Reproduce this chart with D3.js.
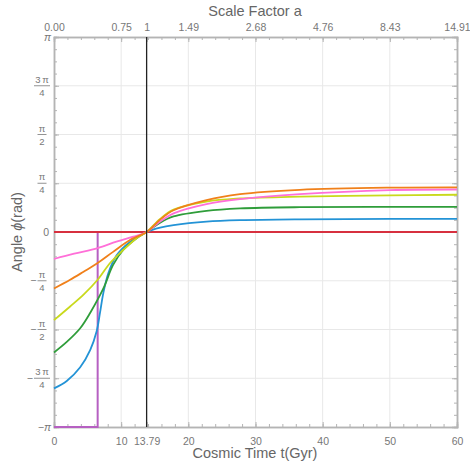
<!DOCTYPE html>
<html>
<head>
<meta charset="utf-8">
<script src="https://cdn.jsdelivr.net/npm/d3@7"></script>
<style>
  body { margin: 0; background: #fff; }
  text { font-family: "Liberation Sans", Arial, sans-serif; }
</style>
</head>
<body>
<svg width="470" height="465"></svg>
<script>
// ticks on the time axis, and matching scale factor labels on top
const timeTicks = [0, 10, 13.79, 20, 30, 40, 50, 60];
const timeLabels = ["0", "10", "13.79", "20", "30", "40", "50", "60"];
const scaleLabels = ["0.00", "0.75", "1", "1.49", "2.68", "4.76", "8.43", "14.91"];
const gridTimes = [10, 20, 30, 40, 50];
const nowTime = 13.79;

// y ticks in quarters of pi
const angleQuarters = [-4, -3, -2, -1, 0, 1, 2, 3, 4];

// curves [t, phi]
const blueSeries = [[0,-2.52],[1.9,-2.4],[3.9,-2.18],[5.4,-1.9],[6.35,-1.6],[6.85,-1.3],[7.35,-0.98],[8.1,-0.66],[9.3,-0.38],[11.3,-0.16],[13.79,0],[15.8,0.07],[17.8,0.11],[22.7,0.166],[27.7,0.19],[36.6,0.204],[50,0.21],[60,0.21]];
const greenSeries = [[0,-1.94],[1.9,-1.77],[3.9,-1.55],[5.4,-1.3],[7.35,-0.91],[8.8,-0.53],[10.3,-0.29],[12.3,-0.1],[13.79,0],[15.8,0.15],[17.8,0.25],[22.7,0.34],[27.7,0.38],[36.6,0.40],[60,0.405]];
const yellowSeries = [[0,-1.42],[2.4,-1.2],[4.4,-1.01],[6.5,-0.77],[8.35,-0.5],[10.3,-0.29],[12.3,-0.1],[13.79,0],[15.8,0.21],[17.8,0.36],[22.7,0.49],[27.7,0.54],[36.6,0.57],[50,0.59],[60,0.60]];
const orangeSeries = [[0,-0.91],[2.4,-0.77],[4.4,-0.64],[6.5,-0.5],[8.8,-0.32],[11.3,-0.13],[13.79,0],[15.8,0.2],[17.8,0.35],[22.7,0.515],[27.7,0.61],[36.6,0.68],[50,0.715],[60,0.72]];
const pinkSeries = [[0,-0.435],[3,-0.35],[6.5,-0.26],[9.3,-0.156],[11.8,-0.076],[13.79,0],[15.8,0.17],[17.8,0.3],[22.7,0.45],[27.7,0.53],[36.6,0.61],[50,0.675],[60,0.685]];
const purpleSeries = [[0,-Math.PI],[6.5,-Math.PI],[6.5,0],[60,0]];
const redSeries = [[0,0],[60,0]];

const svg = d3.select('svg');
const margin = {top: 37, right: 13, bottom: 38, left: 54};
const innerWidth = 470 - margin.left - margin.right;
const innerHeight = 465 - margin.top - margin.bottom;
const g = svg.append('g').attr('transform', `translate(${margin.left},${margin.top})`);

const x = d3.scaleLinear().domain([0, 60]).range([0, innerWidth]);
const y = d3.scaleLinear().domain([-Math.PI, Math.PI]).range([innerHeight, 0]);

const gridColor = '#e8e8e8';
const frameColor = '#b4b4b4';
const textColor = '#777';

// grid
g.selectAll('.vgrid').data(gridTimes).join('line')
  .attr('x1', d => x(d)).attr('x2', d => x(d))
  .attr('y1', 0).attr('y2', innerHeight)
  .attr('stroke', gridColor);
g.selectAll('.hgrid').data(angleQuarters.filter(q => Math.abs(q) < 4)).join('line')
  .attr('x1', 0).attr('x2', innerWidth)
  .attr('y1', d => y(d * Math.PI / 4)).attr('y2', d => y(d * Math.PI / 4))
  .attr('stroke', gridColor);

// frame axes with inward ticks
const minorT = d3.range(0, 61, 2);
const minorPhi = d3.range(-16, 17).map(k => k * Math.PI / 16);
const majorPhi = angleQuarters.map(q => q * Math.PI / 4);

const axes = [
  g.append('g').attr('transform', `translate(0,${innerHeight})`)
    .call(d3.axisBottom(x).tickValues(minorT).tickSize(-3)),
  g.append('g').call(d3.axisTop(x).tickValues(minorT).tickSize(-3)),
  g.append('g').call(d3.axisLeft(y).tickValues(minorPhi).tickSize(-3)),
  g.append('g').attr('transform', `translate(${innerWidth},0)`)
    .call(d3.axisRight(y).tickValues(minorPhi).tickSize(-3)),
  g.append('g').call(d3.axisLeft(y).tickValues(majorPhi).tickSize(-5)),
  g.append('g').attr('transform', `translate(${innerWidth},0)`)
    .call(d3.axisRight(y).tickValues(majorPhi).tickSize(-5))
];
axes.forEach(a => a.selectAll('.tick text').remove());

const bottomMajor = g.append('g').attr('transform', `translate(0,${innerHeight})`)
  .call(d3.axisBottom(x).tickValues(timeTicks).tickSize(-5).tickPadding(11).tickFormat((d, i) => timeLabels[i]));
const topMajor = g.append('g')
  .call(d3.axisTop(x).tickValues(timeTicks).tickSize(-5).tickPadding(6).tickFormat((d, i) => scaleLabels[i]));

axes.concat([bottomMajor, topMajor]).forEach(a => {
  a.select('.domain').attr('stroke', frameColor).attr('stroke-width', 1.5);
  a.selectAll('.tick line').attr('stroke', frameColor);
  a.selectAll('.tick text').attr('fill', textColor).attr('font-size', 10.5)
    .attr('font-family', '"Liberation Sans", Arial, sans-serif');
});

// y tick labels as stacked fractions of pi
const yLab = g.append('g').attr('fill', textColor).attr('font-size', 10.5);
angleQuarters.forEach(q => {
  const yy = y(q * Math.PI / 4);
  const a = Math.abs(q);
  const neg = q < 0;
  if (a === 0) {
    yLab.append('text').attr('x', -5).attr('y', yy).attr('dy', '0.35em')
      .attr('text-anchor', 'end').text('0');
  } else if (a === 4) {
    yLab.append('text').attr('x', -3).attr('y', yy).attr('dy', '0.35em')
      .attr('text-anchor', 'end').attr('font-style', 'italic').text((neg ? '\u2212' : '') + '\u03c0');
  } else {
    const num = a === 3 ? '3\u2009\u03c0' : '\u03c0';
    const den = a === 2 ? '2' : '4';
    const cx = -12;
    const w = a === 3 ? 16 : 9;
    yLab.append('text').attr('x', cx).attr('y', yy - 3).attr('text-anchor', 'middle')
      .attr('font-size', 9.5).text(num);
    yLab.append('line').attr('x1', cx - w / 2).attr('x2', cx + w / 2)
      .attr('y1', yy).attr('y2', yy).attr('stroke', textColor).attr('stroke-width', 0.8);
    yLab.append('text').attr('x', cx).attr('y', yy + 10).attr('text-anchor', 'middle')
      .attr('font-size', 9.5).text(den);
    if (neg) {
      yLab.append('text').attr('x', cx - w / 2 - 1).attr('y', yy).attr('dy', '0.35em')
        .attr('text-anchor', 'end').text('\u2212');
    }
  }
});

// curves
const line = d3.line().x(d => x(d[0])).y(d => y(d[1]));
const smooth = d3.line().x(d => x(d[0])).y(d => y(d[1])).curve(d3.curveCatmullRom);

g.append('path').attr('d', line(purpleSeries)).attr('fill', 'none')
  .attr('stroke', '#b660c2').attr('stroke-width', 2);
g.append('path').attr('d', line(redSeries)).attr('fill', 'none')
  .attr('stroke', '#d7303f').attr('stroke-width', 2);

const curves = [
  {data: blueSeries, color: '#2393d6'},
  {data: greenSeries, color: '#2f9d3a'},
  {data: yellowSeries, color: '#c9d91c'},
  {data: pinkSeries, color: '#ff6fd8'},
  {data: orangeSeries, color: '#f0801a'}
];
curves.forEach(c => {
  g.append('path').attr('d', smooth(c.data)).attr('fill', 'none')
    .attr('stroke', c.color).attr('stroke-width', 1.8);
});

// present day marker
g.append('line').attr('x1', x(nowTime)).attr('x2', x(nowTime))
  .attr('y1', 0).attr('y2', innerHeight)
  .attr('stroke', '#222').attr('stroke-width', 1.3);

// axis titles
svg.append('text').attr('x', 255).attr('y', 16).attr('text-anchor', 'middle')
  .attr('fill', '#666').attr('font-size', 14.5).text('Scale Factor a');
svg.append('text').attr('x', 255).attr('y', 458).attr('text-anchor', 'middle')
  .attr('fill', '#666').attr('font-size', 14.5).text('Cosmic Time t(Gyr)');
svg.append('text').attr('transform', 'translate(22,232) rotate(-90)').attr('text-anchor', 'middle')
  .attr('fill', '#666').attr('font-size', 14.5)
  .html('Angle <tspan font-style="italic">\u03d5</tspan>(rad)');
</script>
</body>
</html>
